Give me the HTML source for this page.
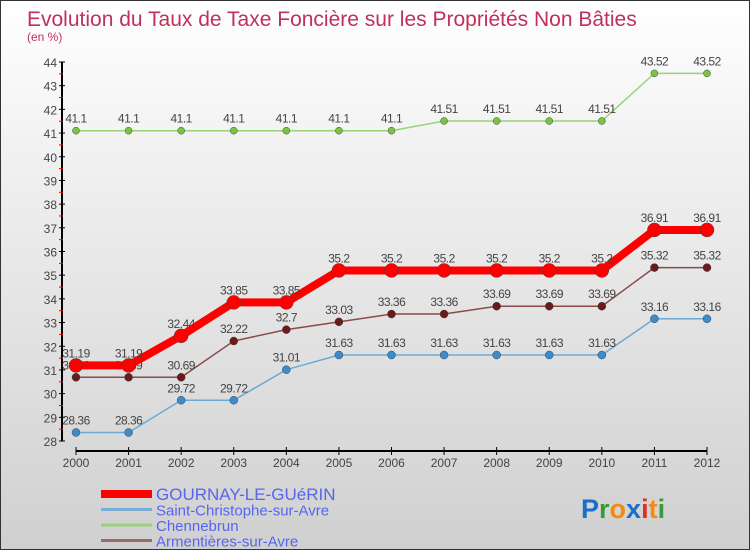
<!DOCTYPE html>
<html><head><meta charset="utf-8"><style>
body{margin:0;width:750px;height:550px;overflow:hidden}
#c{position:absolute;left:0;top:0;width:748px;height:548px;border:1px solid #333;background:linear-gradient(#fff,#f0f0f0 30%,#d0d0d0)}
svg text{font-family:"Liberation Sans",sans-serif}
</style></head><body>
<div id="c">
<svg id="s" width="750" height="550">
<text x="26" y="25" font-size="21" fill="#c0305a">Evolution du Taux de Taxe Foncière sur les Propriétés Non Bâties</text>
<text x="26" y="40" font-size="12" fill="#c0305a">(en %)</text>
<g id="g"></g>
<text x="580" y="517" font-size="27" font-weight="bold"><tspan fill="#1a6fc9">P</tspan><tspan fill="#3a9a3a">r</tspan><tspan fill="#f58a10">o</tspan><tspan fill="#1a6fc9">x</tspan><tspan fill="#e0301a">i</tspan><tspan fill="#f58a10">t</tspan><tspan fill="#3a9a3a">i</tspan></text>
</svg></div>
<script>
const years=[2000,2001,2002,2003,2004,2005,2006,2007,2008,2009,2010,2011,2012];
const yTicks=[28,29,30,31,32,33,34,35,36,37,38,39,40,41,42,43,44];
const gournay=[31.19,31.19,32.44,33.85,33.85,35.2,35.2,35.2,35.2,35.2,35.2,36.91,36.91];
const stChristophe=[28.36,28.36,29.72,29.72,31.01,31.63,31.63,31.63,31.63,31.63,31.63,33.16,33.16];
const chennebrun=[41.1,41.1,41.1,41.1,41.1,41.1,41.1,41.51,41.51,41.51,41.51,43.52,43.52];
const armentieres=[30.69,30.69,30.69,32.22,32.7,33.03,33.36,33.36,33.69,33.69,33.69,35.32,35.32];
const names=["GOURNAY-LE-GUéRIN","Saint-Christophe-sur-Avre","Chennebrun","Armentières-sur-Avre"];
const NS="http://www.w3.org/2000/svg";
const g=document.getElementById('g');
const X=i=>75+i*(706-75)/(years.length-1);
const Y=v=>440-(v-28)*(440-61)/16;
function el(t,a,p){const e=document.createElementNS(NS,t);for(const k in a)e.setAttribute(k,a[k]);(p||g).appendChild(e);return e;}
// axes
let ax=el('line',{x1:61,y1:Y(44),x2:61,y2:Y(28),stroke:'#000','stroke-width':2});


let xx=el('line',{x1:75,y1:450,x2:706,y2:450,stroke:'#000','stroke-width':2});


yTicks.forEach(v=>{
 el('line',{x1:58,y1:Y(v),x2:64,y2:Y(v),stroke:'#000'});
 if(v<44)el('line',{x1:58,y1:Y(v+0.5),x2:62,y2:Y(v+0.5),stroke:'#e00'});
 const t=el('text',{x:56,y:Y(v)+5,'font-size':12,fill:'#444','text-anchor':'end'});t.textContent=v;
 
 
});
years.forEach((y,i)=>{
 el('line',{x1:X(i),y1:446,x2:X(i),y2:454,stroke:'#000'});
 const t=el('text',{x:X(i),y:466,'font-size':12,fill:'#444','text-anchor':'middle'});t.textContent=y;
 
 
});
function series(d,col,w,r,name,fill){
 const p=el('polyline',{points:d.map((v,i)=>X(i)+','+Y(v)).join(' '),fill:'none',stroke:col,'stroke-width':w});
 
 
 d.forEach((v,i)=>{
  const c=el('circle',{cx:X(i),cy:Y(v),r:r,fill:fill,stroke:'#444','stroke-width':0.5});
  
  
  const t=el('text',{x:X(i),y:Y(v)-8,'font-size':12,fill:'#444','text-anchor':'middle','letter-spacing':'-0.5'});t.textContent=v;
  
  
 });
}
series(chennebrun,'#9ad27a',1.5,3.5,'chennebrun','#7ac442');
series(stChristophe,'#6aaad8',1.5,4,'st-christophe','#3a8ccc');
series(armentieres,'#8a4a4a',1.5,4,'armentieres','#6a1a1a');
series(gournay,'#f00',8,7,'gournay','#f00');
// legend
const lc=[['#f00',8],['#7ab0d8',3],['#9ad27a',3],['#9a6a6a',3]];
names.forEach((n,i)=>{
 const y=493+i*15.5;
 const l=el('line',{x1:100,y1:y,x2:151,y2:y,stroke:lc[i][0],'stroke-width':lc[i][1]});
 
 
 const t=el('text',{x:155,y:y+6,'font-size':i==0?17:15,fill:'#5566ee'});t.textContent=n;
 
 
});
</script>
</body></html>
